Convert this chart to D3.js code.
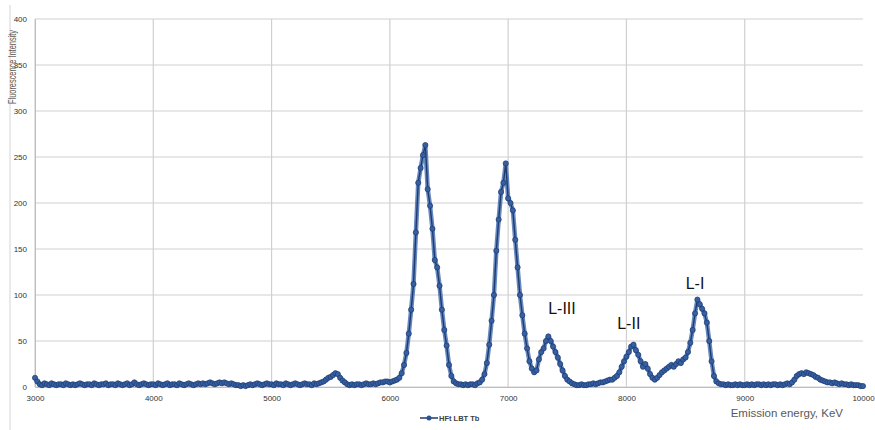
<!DOCTYPE html>
<html>
<head>
<meta charset="utf-8">
<script src="https://cdn.jsdelivr.net/npm/d3@7"></script>
<style>
  body { margin: 0; background: #fff; }
  svg { display: block; font-family: "Liberation Sans", Arial, sans-serif; }
</style>
</head>
<body>
<svg width="875" height="430"></svg>
<script>
// Emission spectrum, HFt LBT Tb, sampled every 20 keV from 3000 to 10000
const startEnergy = 3000, stepEnergy = 20;

const intensity3000 = [10, 6, 3, 2, 4, 3, 2, 4, 3, 2, 3, 3, 2, 4, 3, 2, 3, 2, 3, 4,
  3, 2, 3, 3, 2, 4, 3, 2, 3, 3, 4, 2, 3, 3, 2, 4, 3, 2, 3, 4,
  2, 3, 5, 3, 2, 3, 4, 3, 2, 3];
const intensity4000 = [3, 2, 4, 3, 2, 3, 4, 2, 3, 3, 2, 4, 3, 2, 3, 4, 3, 2, 3, 4,
  3, 4, 3, 4, 5, 4, 3, 4, 5, 4, 5, 4, 3, 4, 3, 2, 2, 1, 2, 1,
  2, 3, 2, 3, 4, 3, 2, 3, 4, 3];
const intensity5000 = [3, 2, 4, 3, 3, 2, 4, 3, 2, 3, 4, 3, 2, 3, 4, 3, 3, 2, 4, 3,
  4, 5, 6, 8, 10, 11, 13, 15, 14, 10, 7, 5, 3, 2, 3, 2, 3, 3, 2, 3,
  4, 3, 3, 4, 3, 4, 5, 5, 6, 6];
const intensity6000 = [5, 6, 7, 8, 10, 15, 24, 37, 58, 84, 112, 168, 222, 238, 252, 263, 215, 197, 172, 138,
  130, 110, 84, 62, 45, 24, 12, 6, 4, 3, 3, 2, 3, 2, 3, 3, 2, 4, 5, 8,
  14, 26, 46, 72, 100, 148, 182, 212, 222, 243];
const intensity7000 = [205, 200, 192, 160, 130, 100, 78, 58, 42, 28, 20, 16, 18, 30, 38, 42, 50, 55, 50, 44,
  38, 32, 25, 18, 12, 8, 6, 4, 3, 2, 2, 3, 2, 2, 3, 3, 4, 3, 4, 5,
  5, 6, 7, 8, 8, 10, 12, 16, 22, 28];
const intensity8000 = [33, 38, 44, 46, 40, 35, 28, 22, 25, 20, 14, 10, 8, 10, 13, 16, 18, 20, 22, 24,
  22, 25, 28, 26, 30, 32, 38, 48, 62, 80, 95, 90, 85, 80, 70, 50, 28, 12, 6, 4,
  3, 3, 2, 3, 2, 2, 3, 2, 3, 2];
const intensity9000 = [2, 3, 2, 3, 2, 3, 3, 2, 3, 2, 3, 2, 3, 3, 2, 3, 2, 3, 4, 3,
  5, 8, 12, 14, 15, 14, 16, 15, 14, 13, 11, 10, 8, 7, 6, 5, 5, 4, 5, 4,
  3, 4, 3, 3, 2, 3, 2, 2, 2, 1];
const intensity10000 = [1];

const xTicks = [3000, 4000, 5000, 6000, 7000, 8000, 9000, 10000];
const yTicks = [0, 50, 100, 150, 200, 250, 300, 350, 400];

const peakLabels = ["L-III", "L-II", "L-I"];
const peakEnergies = [7455, 8020, 8580];
const peakHeights = [79, 63, 106];

const seriesName = "HFt LBT Tb";

const intensity = [].concat(intensity3000, intensity4000, intensity5000, intensity6000,
  intensity7000, intensity8000, intensity9000, intensity10000);
const data = intensity.map((v, i) => ({ e: startEnergy + i * stepEnergy, v: v }));

const svg = d3.select("svg");
const plotLeft = 35, plotRight = 863, plotTop = 19, plotBottom = 387;

const x = d3.scaleLinear().domain([3000, 10000]).range([plotLeft, plotRight]);
const y = d3.scaleLinear().domain([0, 400]).range([plotBottom, plotTop]);

// faint frame line at the left edge of the picture
svg.append("line")
    .attr("x1", 10).attr("x2", 10).attr("y1", 5).attr("y2", 430)
    .attr("stroke", "#d4d4d4");

// gridlines
svg.append("g").attr("class", "grid-y")
  .selectAll("line")
  .data(yTicks)
  .enter().append("line")
    .attr("x1", plotLeft).attr("x2", plotRight)
    .attr("y1", (d) => y(d)).attr("y2", (d) => y(d))
    .attr("stroke", "#d0d0d0").attr("stroke-width", 1.2);

svg.append("g").attr("class", "grid-x")
  .selectAll("line")
  .data(xTicks.slice(0, -1))
  .enter().append("line")
    .attr("x1", (d) => x(d)).attr("x2", (d) => x(d))
    .attr("y1", plotTop).attr("y2", plotBottom)
    .attr("stroke", "#d0d0d0").attr("stroke-width", 1.2);

// axes
const yAxis = svg.append("g")
    .attr("transform", `translate(${plotLeft},0)`)
    .call(d3.axisLeft(y).tickValues(yTicks).tickSize(0).tickPadding(8));
yAxis.select(".domain").attr("stroke", "#bdbdbd");
yAxis.selectAll("text").attr("font-size", 8).attr("fill", "#333");

const xAxis = svg.append("g")
    .attr("transform", `translate(0,${plotBottom})`)
    .call(d3.axisBottom(x).tickValues(xTicks).tickSize(0).tickPadding(8).tickFormat(d3.format("d")));
xAxis.select(".domain").attr("stroke", "#bdbdbd");
xAxis.selectAll("text").attr("font-size", 8).attr("fill", "#333");

// axis titles
svg.append("text")
    .attr("transform", "translate(16,67) rotate(-90)")
    .attr("text-anchor", "middle")
    .attr("font-size", 10.5)
    .attr("textLength", 74)
    .attr("lengthAdjust", "spacingAndGlyphs")
    .attr("fill", "#595959")
    .text("Fluorescence Intensity");

svg.append("text")
    .attr("x", 843).attr("y", 417)
    .attr("text-anchor", "end")
    .attr("font-size", 11.5)
    .attr("fill", "#595959")
    .text("Emission energy, KeV");

// series
const line = d3.line().x((d) => x(d.e)).y((d) => y(d.v));

svg.append("path")
    .datum(data)
    .attr("d", line)
    .attr("fill", "none")
    .attr("stroke", "#4a74b4")
    .attr("stroke-width", 4.5)
    .attr("stroke-linejoin", "round")
    .attr("opacity", 0.85);

svg.append("path")
    .datum(data)
    .attr("d", line)
    .attr("fill", "none")
    .attr("stroke", "#1f3a6e")
    .attr("stroke-width", 1.4);

svg.append("g")
  .selectAll("circle")
  .data(data)
  .enter().append("circle")
    .attr("cx", (d) => x(d.e))
    .attr("cy", (d) => y(d.v))
    .attr("r", 2.6)
    .attr("fill", "#3560a4")
    .attr("stroke", "#1f3a6e")
    .attr("stroke-width", 0.7);

// peak labels
svg.append("g")
  .selectAll("text")
  .data(peakLabels)
  .enter().append("text")
    .attr("x", (d, i) => x(peakEnergies[i]))
    .attr("y", (d, i) => y(peakHeights[i]))
    .attr("text-anchor", "middle")
    .attr("font-size", 16)
    .attr("fill", "#111")
    .text((d) => d);

// legend
const legend = svg.append("g").attr("transform", "translate(420,418)");
legend.append("line")
    .attr("x1", 0).attr("x2", 18)
    .attr("stroke", "#1f3a6e").attr("stroke-width", 1.5);
legend.append("circle")
    .attr("cx", 9).attr("r", 2.5)
    .attr("fill", "#2d5292");
legend.append("text")
    .attr("x", 19).attr("y", 2.5)
    .attr("font-size", 7.5)
    .attr("font-weight", "bold")
    .attr("fill", "#404040")
    .text(seriesName);
</script>
</body>
</html>
